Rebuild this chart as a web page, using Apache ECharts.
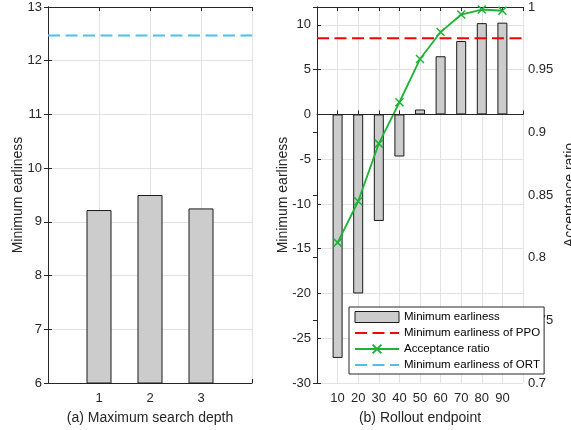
<!DOCTYPE html>
<html><head><meta charset="utf-8">
<script src="https://cdn.jsdelivr.net/npm/echarts@6/dist/echarts.min.js"></script>
<style>html,body{margin:0;padding:0;background:#fff}#c{width:571px;height:430px}</style>
</head><body><div id="c"></div>
<script>
// ---- data ----
const depthCategories = [1, 2, 3];
const depthMinEarliness = [9.22, 9.5, 9.25];
const ortMinEarliness = 12.47;

const rolloutEndpoints = [10, 20, 30, 40, 50, 60, 70, 80, 90];
const rolloutMinEarliness = [-27.2, -20, -11.9, -4.7, 0.55, 6.5, 8.2, 10.2, 10.25];
const ppoMinEarliness = 8.5;
const acceptanceRatio = [0.812, 0.845, 0.891, 0.924, 0.9585, 0.980, 0.994, 0.998, 0.997];

const depthRange = [0, 4];
const rolloutRange = [0, 100];
const leftYRange = [6, 13];
const rightYRange = [-30, 12];
const ratioRange = [0.7, 1];

// ---- style ----
const FONT = 'Liberation Sans';
const AX = '#262626';
const GRID = '#e2e2e2';
const TXT = '#262626';

function baseAxis(extra) {
  return Object.assign({
    axisLine: { show: true, lineStyle: { color: AX, width: 1 } },
    axisTick: { show: true, inside: true, length: 4, lineStyle: { color: AX } },
    axisLabel: { color: TXT, fontSize: 13, fontFamily: FONT },
    splitLine: { show: false },
    nameTextStyle: { color: TXT, fontSize: 14, fontFamily: FONT },
    nameMoveOverlap: false
  }, extra);
}
function deepAxis(base, over) {
  const a = baseAxis(base);
  for (const k in over) a[k] = Object.assign({}, a[k] || {}, over[k]);
  return a;
}

const chart = echarts.init(document.getElementById('c'), null, { renderer: 'canvas' });

const xMarker = 'path://M0,0L10,10M10,0L0,10';
const green = '#1db336';

const option = {
  animation: false,
  backgroundColor: '#fff',
  grid: [
    { left: 48, top: 7, width: 204, height: 376, outerBoundsMode: 'none', containLabel: false },
    { left: 317, top: 7, width: 206, height: 376, outerBoundsMode: 'none', containLabel: false }
  ],
  xAxis: [
    deepAxis({ gridIndex: 0, type: 'value', min: depthRange[0], max: depthRange[1], interval: 1, position: 'bottom',
      name: '(a) Maximum search depth', nameLocation: 'middle', nameGap: 28.5 },
      { axisLabel: { margin: 9, formatter: v => depthCategories.indexOf(v) >= 0 ? String(v) : '' },
        splitLine: { show: true, lineStyle: { color: GRID } } }),
    deepAxis({ gridIndex: 0, type: 'value', min: depthRange[0], max: depthRange[1], interval: 1, position: 'top' },
      { axisLabel: { show: false } }),
    deepAxis({ gridIndex: 1, type: 'value', min: rolloutRange[0], max: rolloutRange[1], interval: 10, position: 'bottom',
      name: '(b) Rollout endpoint', nameLocation: 'middle', nameGap: 28.5 },
      { axisLabel: { margin: 9, formatter: v => rolloutEndpoints.indexOf(v) >= 0 ? String(v) : '' },
        splitLine: { show: true, lineStyle: { color: GRID } } }),
    deepAxis({ gridIndex: 1, type: 'value', min: rolloutRange[0], max: rolloutRange[1], interval: 10, position: 'top' },
      { axisLabel: { show: false } })
  ],
  yAxis: [
    deepAxis({ gridIndex: 0, type: 'value', min: leftYRange[0], max: leftYRange[1], interval: 1, position: 'left',
      name: 'Minimum earliness', nameLocation: 'middle', nameGap: 23, nameRotate: 90 },
      { axisLabel: { margin: 6 }, splitLine: { show: true, lineStyle: { color: GRID } } }),
    deepAxis({ gridIndex: 0, type: 'value', min: leftYRange[0], max: leftYRange[1], interval: 1, position: 'right' },
      { axisLabel: { show: false } }),
    deepAxis({ gridIndex: 1, type: 'value', min: rightYRange[0], max: rightYRange[1], interval: 5, position: 'left',
      name: 'Minimum earliness', nameLocation: 'middle', nameGap: 27, nameRotate: 90 },
      { axisLabel: { margin: 6, showMaxLabel: false, formatter: v => (v % 5 === 0 ? String(v) : '') },
        splitLine: { show: true, lineStyle: { color: GRID } } }),
    deepAxis({ gridIndex: 1, type: 'value', min: ratioRange[0], max: ratioRange[1], interval: 0.05, position: 'right',
      name: 'Acceptance ratio', nameLocation: 'middle', nameGap: 40, nameRotate: 90 },
      { axisLabel: { margin: 5, formatter: v => String(+v.toFixed(2)) } })
  ],
  legend: {
    orient: 'vertical', left: 349, top: 307,
    padding: [4, 4, 3, 5], itemWidth: 44, itemHeight: 11, itemGap: 4,
    backgroundColor: '#fff', borderColor: AX, borderWidth: 1, borderRadius: 0,
    textStyle: { color: '#000', fontSize: 11.5, fontFamily: FONT, lineHeight: 11 },
    data: [
      { name: 'Minimum earliness', icon: 'rect',
        itemStyle: { color: '#cccccc', borderColor: '#1a1a1a', borderWidth: 1 } },
      { name: 'Minimum earliness of PPO', itemStyle: { opacity: 0 } },
      { name: 'Acceptance ratio' },
      { name: 'Minimum earliness of ORT', itemStyle: { opacity: 0 } }
    ]
  },
  series: [
    {
      name: 'Depth minimum earliness', type: 'bar', xAxisIndex: 0, yAxisIndex: 0,
      data: depthCategories.map((c, i) => [c, depthMinEarliness[i]]),
      barWidth: 25, clip: true,
      itemStyle: { color: '#cccccc', borderColor: '#1a1a1a', borderWidth: 1 }
    },
    {
      name: 'Minimum earliness of ORT', type: 'line', xAxisIndex: 0, yAxisIndex: 0,
      data: [[depthRange[0], ortMinEarliness], [depthRange[1], ortMinEarliness]],
      symbol: 'none', itemStyle: { color: '#4dbeee' },
      lineStyle: { color: '#4dbeee', width: 2, type: [12, 5.5] }
    },
    {
      name: 'Minimum earliness', type: 'bar', xAxisIndex: 2, yAxisIndex: 2,
      data: rolloutEndpoints.map((c, i) => [c, rolloutMinEarliness[i]]),
      barWidth: 10, clip: true,
      itemStyle: { color: '#cccccc', borderColor: '#1a1a1a', borderWidth: 1 },
      markLine: {
        silent: true, symbol: ['none', 'none'], label: { show: false },
        lineStyle: { color: AX, type: 'solid', width: 1 },
        data: [{ yAxis: 0 }]
      }
    },
    {
      name: 'Minimum earliness of PPO', type: 'line', xAxisIndex: 2, yAxisIndex: 2,
      data: [[rolloutRange[0], ppoMinEarliness], [rolloutRange[1], ppoMinEarliness]],
      symbol: 'none', itemStyle: { color: '#ff0000' },
      lineStyle: { color: '#ff0000', width: 2, type: [12, 5.5] }
    },
    {
      name: 'Acceptance ratio', type: 'line', xAxisIndex: 2, yAxisIndex: 3,
      data: rolloutEndpoints.map((c, i) => [c, acceptanceRatio[i]]),
      symbol: xMarker, symbolSize: 8,
      itemStyle: { color: green, borderColor: green, borderWidth: 1.5 },
      lineStyle: { color: green, width: 1.8 }
    }
  ]
};
chart.setOption(option);
</script>
</body></html>
